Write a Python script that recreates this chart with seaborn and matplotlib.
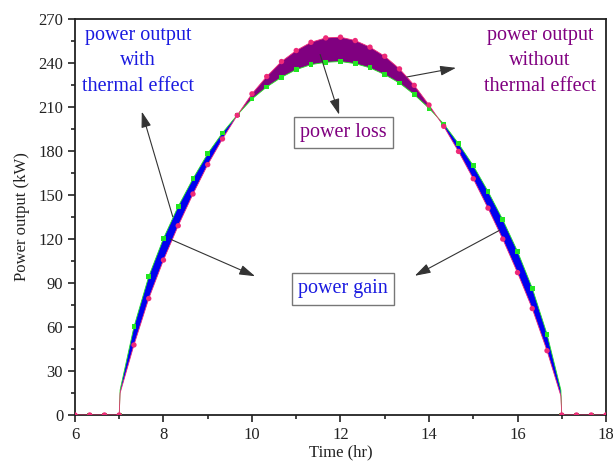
import numpy as np
import pandas as pd
import matplotlib
matplotlib.use("Agg")
import matplotlib.pyplot as plt
import seaborn as sns
from matplotlib.ticker import MultipleLocator

# ---- data (every 20 minutes) ----
times = [6.0, 6.333, 6.667, 7.0, 7.333, 7.667, 8.0, 8.333, 8.667, 9.0, 9.333, 9.667,
         10.0, 10.333, 10.667, 11.0, 11.333, 11.667, 12.0, 12.333, 12.667, 13.0,
         13.333, 13.667, 14.0, 14.333, 14.667, 15.0, 15.333, 15.667, 16.0, 16.333,
         16.667, 17.0, 17.333, 17.667, 18.0]
power_without = [0, 0, 0, 0, 47.7, 79.3, 105.5, 128.9, 150.5, 170.5, 188.0, 204.1,
                 218.7, 230.5, 240.7, 248.2, 253.8, 256.8, 257.3, 255.0, 250.5, 244.3,
                 235.7, 224.5, 211.1, 196.6, 179.5, 160.9, 140.9, 119.8, 97.0, 72.5,
                 43.8, 0, 0, 0, 0]
power_with = [0, 0, 0, 0, 60.0, 94.3, 120.2, 142.0, 160.9, 178.0, 192.1, 204.3,
              215.2, 223.4, 230.0, 235.2, 238.6, 240.2, 240.7, 239.3, 236.4, 231.8,
              226.1, 218.2, 208.9, 198.2, 184.8, 169.8, 152.3, 133.0, 111.4, 86.4,
              55.0, 0, 0, 0, 0]
# sunrise / sunset edge of the curves (no markers there)
edge_times = [7.02, 16.98]
edge_without = [15.0, 13.0]
edge_with = [17.0, 17.0]

# ---- build line table ----
df = pd.DataFrame({"t": times + edge_times,
                   "without": power_without + edge_without,
                   "with": power_with + edge_with}).sort_values("t").reset_index(drop=True)
marks = pd.DataFrame({"t": times, "without": power_without, "with": power_with})

sns.set_theme(style="ticks")
plt.rcParams["font.family"] = ["Liberation Serif", "DejaVu Serif"]

fig = plt.figure(figsize=(6.13, 4.63), dpi=100)
ax = fig.add_axes([0.1223, 0.1037, 0.8663, 0.8563])

GREEN = "#22E622"
PINK = "#EE2A78"
BLUE = "#0000F0"
PURPLE = "#800080"

t = df["t"].to_numpy()
a = df["with"].to_numpy()
b = df["without"].to_numpy()
ax.fill_between(t, a, b, where=a >= b, interpolate=True, color=BLUE, lw=0, zorder=1)
ax.fill_between(t, a, b, where=b >= a, interpolate=True, color=PURPLE, lw=0, zorder=1)

sns.lineplot(data=df, x="t", y="with", color=GREEN, lw=0.6, estimator=None, ax=ax, zorder=2)
sns.lineplot(data=df, x="t", y="without", color=PINK, lw=0.6, estimator=None, ax=ax, zorder=3)
sns.scatterplot(data=marks, x="t", y="with", marker="s", s=12, color=GREEN,
                edgecolor="none", ax=ax, zorder=4)
sns.scatterplot(data=marks, x="t", y="without", marker="o", s=15, color=PINK,
                edgecolor="none", ax=ax, zorder=5)

ax.set_xlim(6, 18)
ax.set_ylim(0, 270)
ax.xaxis.set_major_locator(MultipleLocator(2))
ax.xaxis.set_minor_locator(MultipleLocator(1))
ax.yaxis.set_major_locator(MultipleLocator(30))
ax.yaxis.set_minor_locator(MultipleLocator(15))
ax.tick_params(which="major", direction="out", length=5, width=1.2, labelsize=12,
               colors="#222222", labelcolor="#222222")
ax.tick_params(which="minor", direction="out", length=3, width=1.2, colors="#222222")
for s in ax.spines.values():
    s.set_linewidth(1.3)
    s.set_color("#222222")
ax.set_xlabel("Time (hr)", fontsize=12, color="#222222", labelpad=1)
ax.set_ylabel("Power output (kW)", fontsize=12, color="#222222", labelpad=6)

# ---- annotations ----
left_lines = ["power output", "with", "thermal effect"]
right_lines = ["power output", "without", "thermal effect"]
ys = [255.7, 238.2, 220.9]
for txt, y in zip(left_lines, ys):
    ax.text(7.42, y, txt, ha="center", va="baseline", color="#1A1AE0", fontsize=14.5)
for txt, y in zip(right_lines, ys):
    ax.text(16.51, y, txt, ha="center", va="baseline", color=PURPLE, fontsize=14.5)

box = dict(boxstyle="square,pad=0.3", fc="white", ec="#777777", lw=1.0)
ax.text(12.06, 192.3, "power loss", ha="center", va="center", color=PURPLE,
        fontsize=14.5, bbox=box, zorder=6)
ax.text(12.06, 85.8, "power gain", ha="center", va="center", color="#1A1AE0",
        fontsize=14.5, bbox=box, zorder=6)

arrows = [((8.21, 135.0), (7.51, 206.6)),
          ((8.15, 119.8), (10.07, 94.5)),
          ((15.59, 125.7), (13.68, 94.8)),
          ((11.54, 245.5), (11.97, 204.5)),
          ((13.50, 230.2), (14.61, 236.4))]
for tail, head in arrows:
    ax.annotate("", xy=head, xytext=tail,
                arrowprops=dict(arrowstyle="-|>,head_length=0.8,head_width=0.25",
                                color="#333333", lw=0.8, mutation_scale=12,
                                shrinkA=0, shrinkB=0), zorder=7)

fig.savefig("out.png", dpi=100)
